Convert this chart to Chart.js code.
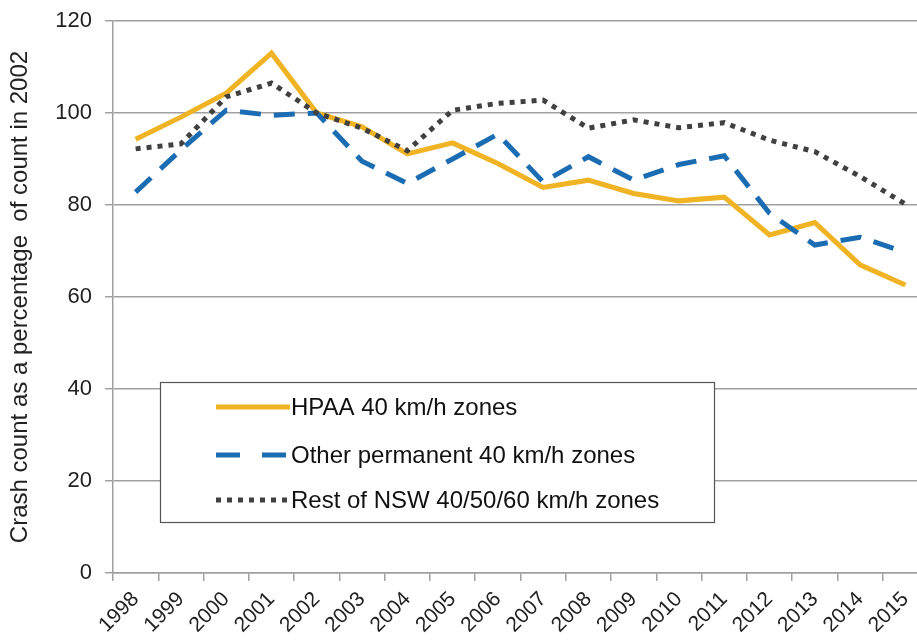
<!DOCTYPE html>
<html>
<head>
<meta charset="utf-8">
<script src="https://cdn.jsdelivr.net/npm/chart.js@4"></script>
<style>
  html, body { margin: 0; padding: 0; background: #fff; overflow: hidden; }
  canvas { display: block; }
</style>
</head>
<body>
<canvas id="chart" width="940" height="644"></canvas>
<script>
const years = ["1998", "1999", "2000", "2001", "2002", "2003", "2004", "2005", "2006",
  "2007", "2008", "2009", "2010", "2011", "2012", "2013", "2014", "2015"]
const hpaa = [94.3, 99.1, 104.3, 113, 100, 97, 91.1, 93.5, 89, 83.8, 85.4, 82.5, 80.9, 81.7, 73.5, 76.2, 67, 62.6]
const otherPermanent = [82.8, 92, 100.6, 99.5, 100, 89.5, 84.7, 90, 95.4, 85, 90.5, 85.4, 88.8, 90.7, 78.2, 71.3, 73, 69.7]
const restOfNsw = [92.2, 93.3, 103.5, 106.5, 100, 96.7, 91.8, 100.6, 102.1, 102.8, 96.7, 98.5, 96.8, 97.9, 94.1, 91.6, 86.2, 80.2]
const yTicks = [0, 20, 40, 60, 80, 100, 120]

const font = "'Liberation Sans', Arial, sans-serif"
const gridColor = "#a0a0a0"
const textColor = "#222"

// boxed legend sitting inside the plot, like the original
const boxLegend = {
  id: "boxLegend",
  afterDatasetsDraw(chart) {
    const ctx = chart.ctx
    const ca = chart.chartArea
    const x = ca.left + 47
    const y = ca.top + 361
    const w = 554
    const h = 140
    const rows = [25, 73, 118]
    ctx.save()
    ctx.fillStyle = "#fff"
    ctx.fillRect(x, y, w, h)
    ctx.strokeStyle = "#555"
    ctx.lineWidth = 1.2
    ctx.strokeRect(x + 0.5, y + 0.5, w, h)
    chart.data.datasets.forEach((ds, i) => {
      const cy = y + rows[i]
      ctx.beginPath()
      ctx.strokeStyle = ds.borderColor
      ctx.lineWidth = ds.borderWidth
      ctx.setLineDash(ds.legendDash || [])
      ctx.lineCap = "butt"
      ctx.moveTo(x + 56, cy)
      ctx.lineTo(x + 130, cy)
      ctx.stroke()
      ctx.setLineDash([])
      ctx.fillStyle = "#111"
      ctx.font = "24px " + font
      ctx.textBaseline = "middle"
      ctx.textAlign = "left"
      ctx.fillText(ds.label, x + 131, cy + 1)
    })
    ctx.restore()
  }
}

new Chart(document.getElementById("chart"), {
  type: "line",
  data: {
    labels: years,
    datasets: [
      {
        label: "HPAA 40 km/h zones",
        data: hpaa,
        borderColor: "#f0b323",
        borderWidth: 5,
        order: 3,
      },
      {
        label: "Other permanent 40 km/h zones",
        data: otherPermanent,
        borderColor: "#1b6db3",
        borderWidth: 5,
        borderDash: [21, 13],
        legendDash: [24, 22],
        order: 2,
      },
      {
        label: "Rest of NSW 40/50/60 km/h zones",
        data: restOfNsw,
        borderColor: "#404040",
        borderWidth: 5,
        borderDash: [5, 6],
        legendDash: [5, 6],
        order: 1,
      },
    ]
  },
  options: {
    responsive: false,
    animation: false,
    devicePixelRatio: 1,
    layout: { padding: { top: 21, right: 12, left: 0, bottom: 0 } },
    elements: {
      point: { radius: 0 },
      line: { tension: 0, fill: false, borderJoinStyle: "miter", borderCapStyle: "butt" }
    },
    plugins: {
      legend: { display: false },
      tooltip: { enabled: false },
    },
    scales: {
      x: {
        offset: true,
        grid: { offset: true, drawOnChartArea: false, drawTicks: true, tickLength: 8, color: gridColor, lineWidth: 1.5 },
        border: { color: gridColor, width: 1.5 },
        ticks: {
          autoSkip: false,
          minRotation: 45,
          maxRotation: 45,
          padding: 6,
          color: textColor,
          font: { family: font, size: 21 },
        },
        afterFit(scale) {
          scale.height = 71
          scale.paddingLeft = 0
          scale.paddingRight = 0
        },
      },
      y: {
        min: 0,
        max: 120,
        afterBuildTicks(scale) { scale.ticks = yTicks.map(v => ({ value: v })) },
        grid: { color: gridColor, lineWidth: 1.5, tickLength: 8 },
        border: { color: gridColor, width: 1.5 },
        ticks: {
          padding: 13,
          color: textColor,
          font: { family: font, size: 22 },
        },
        title: {
          display: true,
          text: "Crash count as a percentage  of count in 2002",
          color: textColor,
          font: { family: font, size: 24 },
          padding: { top: 6, bottom: 0 },
        },
        afterFit(scale) {
          scale.width = 113
          scale.paddingTop = 0
          scale.paddingBottom = 0
        },
      }
    }
  },
  plugins: [boxLegend],
})
</script>
</body>
</html>
